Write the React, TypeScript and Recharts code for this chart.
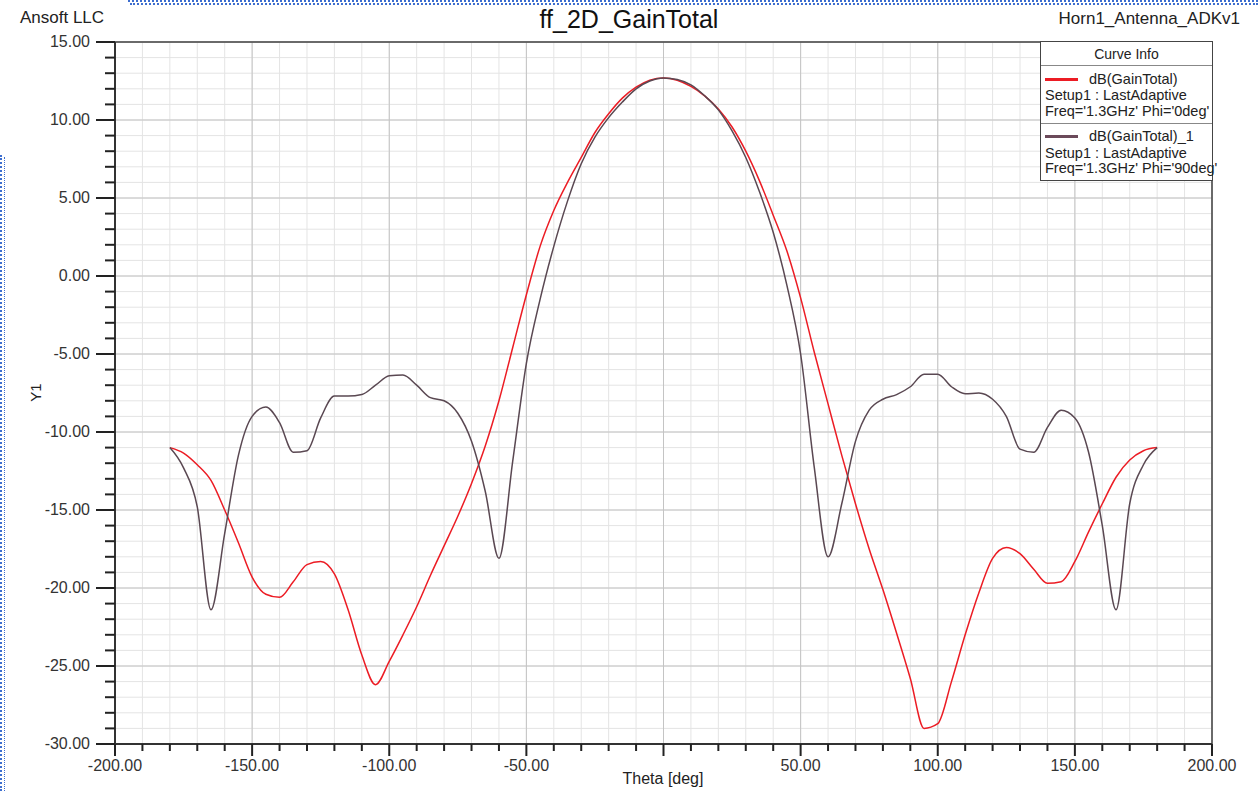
import { CartesianGrid, Line, LineChart, ReferenceLine, XAxis, YAxis } from 'recharts';

const theta = [
  -180, -175, -170, -165, -160, -155, -150, -145, -140, -135, -130, -125, -120, -115, -110, -105, -100, -95, -90, -85,
  -80, -75, -70, -65, -60, -55, -50, -45, -40, -35, -30, -25, -20, -15, -10, -5, 0, 5, 10, 15, 20, 25, 30, 35, 40, 45,
  50, 55, 60, 65, 70, 75, 80, 85, 90, 95, 100, 105, 110, 115, 120, 125, 130, 135, 140, 145, 150, 155, 160, 165, 170,
  175, 180,
];

// dB(GainTotal), Phi = 0deg
const gainPhi0 = [
  -11.0, -11.35, -12.1, -13.1, -15.0, -17.1, -19.3, -20.4, -20.6, -19.6, -18.5, -18.3, -19.1, -21.4, -24.3, -26.2,
  -24.7, -23.0, -21.2, -19.2, -17.3, -15.4, -13.3, -10.9, -8.0, -4.6, -1.2, 1.9, 4.2, 6.0, 7.6, 9.2, 10.4, 11.4, 12.1,
  12.55, 12.7, 12.55, 12.15, 11.55, 10.7, 9.55, 8.0, 6.1, 3.9, 1.6, -1.4, -4.9, -8.2, -11.5, -14.6, -17.5, -20.1, -22.9,
  -25.8, -29.0, -28.7, -26.0, -23.0, -20.3, -18.1, -17.4, -17.8, -18.8, -19.7, -19.6, -18.3, -16.4, -14.6, -12.9,
  -11.8, -11.2, -11.0,
];

// dB(GainTotal)_1, Phi = 90deg
const gainPhi90 = [
  -11.0, -12.3, -14.8, -21.4, -16.5, -11.5, -9.0, -8.4, -9.4, -11.3, -11.2, -9.1, -7.7, -7.7, -7.6, -7.0, -6.4, -6.35,
  -7.0, -7.8, -8.0, -8.8, -10.6, -13.8, -18.1, -11.9, -5.6, -1.5, 1.9, 4.8, 7.2, 8.9, 10.15, 11.15, 12.0, 12.5, 12.7,
  12.6, 12.25, 11.55, 10.65, 9.3, 7.6, 5.4, 2.8, -0.6, -5.0, -12.3, -18.0, -14.6, -10.6, -8.6, -7.9, -7.6, -7.1, -6.3,
  -6.3, -7.1, -7.55, -7.5, -7.9, -9.0, -11.1, -11.3, -9.7, -8.6, -9.1, -11.3, -16.0, -21.4, -14.6, -12.1, -11.0,
];

const xMajor = [-200, -150, -100, -50, 0, 50, 100, 150, 200];
const xMinor = Array.from({ length: 41 }, (_, i) => -200 + i * 10);
const yMajor = [15, 10, 5, 0, -5, -10, -15, -20, -25, -30];
const yMinor = Array.from({ length: 46 }, (_, i) => 15 - i);

const data = theta.map((t, i) => ({ theta: t, phi0: gainPhi0[i], phi90: gainPhi90[i] }));

const FONT = '"Liberation Sans", Arial, sans-serif';
const RED = '#ec1c24';
const DARK = '#5a4852';

function XTick(props: any) {
  const { x, y, payload } = props;
  const major = payload.value % 50 === 0;
  // the 0.00 label sits under the axis title in the original, so it is not drawn
  return (
    <g>
      <line x1={x} x2={x} y1={y} y2={y + (major ? 12 : 7)} stroke="#222" strokeWidth={2} />
      {major && payload.value !== 0 && (
        <text x={x} y={y + 27} textAnchor="middle" fontSize={16} fill="#333" fontFamily={FONT}>
          {payload.value.toFixed(2)}
        </text>
      )}
    </g>
  );
}

function YTick(props: any) {
  const { x, y, payload } = props;
  const major = payload.value % 5 === 0;
  return (
    <g>
      <line x1={x - (major ? 19 : 10)} x2={x} y1={y} y2={y} stroke="#222" strokeWidth={2} />
      {major && (
        <text x={x - 25} y={y + 5} textAnchor="end" fontSize={16} fill="#333" fontFamily={FONT}>
          {payload.value.toFixed(2)}
        </text>
      )}
    </g>
  );
}

const legendText = { position: 'absolute' as const, fontSize: 14.5, color: '#222', whiteSpace: 'nowrap' as const, lineHeight: '16px' };

export default function App() {
  return (
    <div style={{ position: 'absolute', left: 0, top: 0, width: 1258, height: 791, background: '#fff', fontFamily: FONT, overflow: 'hidden' }}>
      <style>{'body{margin:0}'}</style>
      {/* selection dots from the screenshot */}
      <div style={{ position: 'absolute', left: 128, right: 0, top: 0, borderTop: '2px dotted #3d6ecf' }} />
      <div style={{ position: 'absolute', left: 130, right: 0, top: 3, borderTop: '2px dotted #3d6ecf' }} />
      <div style={{ position: 'absolute', left: 0, top: 155, bottom: 0, borderLeft: '2px dotted #3d6ecf' }} />
      <div style={{ position: 'absolute', left: 4, top: 157, bottom: 0, borderLeft: '1px dotted #3d6ecf' }} />

      <div style={{ position: 'absolute', left: 20, top: 8, fontSize: 17, color: '#222' }}>Ansoft LLC</div>
      <div style={{ position: 'absolute', left: 0, width: 1258, top: 5, textAlign: 'center', fontSize: 25, color: '#111' }}>
        ff_2D_GainTotal
      </div>
      <div style={{ position: 'absolute', right: 18, top: 9, fontSize: 17, color: '#222' }}>Horn1_Antenna_ADKv1</div>
      <div style={{ position: 'absolute', left: 26, top: 384, fontSize: 15, color: '#222', transform: 'rotate(-90deg)' }}>Y1</div>
      <div style={{ position: 'absolute', left: 0, width: 1326, top: 770, textAlign: 'center', fontSize: 16, color: '#222' }}>
        Theta [deg]
      </div>

      <LineChart width={1258} height={791} data={data} margin={{ top: 42, right: 46, left: 0, bottom: 0 }}>
        <CartesianGrid verticalValues={xMinor} horizontalValues={yMinor} stroke="#e4e4e4" strokeWidth={1} />
        <CartesianGrid verticalValues={xMajor} horizontalValues={yMajor} stroke="#c4c4c4" strokeWidth={1} />
        <XAxis
          type="number"
          dataKey="theta"
          domain={[-200, 200]}
          ticks={xMinor}
          interval={0}
          height={47}
          tickSize={0}
          tickMargin={0}
          tickLine={false}
          tick={<XTick />}
          axisLine={{ stroke: '#333', strokeWidth: 2 }}
        />
        <YAxis
          type="number"
          domain={[-30, 15]}
          ticks={yMinor}
          interval={0}
          width={115}
          tickSize={0}
          tickMargin={0}
          tickLine={false}
          tick={<YTick />}
          axisLine={{ stroke: '#333', strokeWidth: 2 }}
        />
        <ReferenceLine y={15} stroke="#444" strokeWidth={1.5} />
        <ReferenceLine x={200} stroke="#444" strokeWidth={1.5} />
        <Line type="monotone" dataKey="phi0" stroke={RED} strokeWidth={1.5} dot={false} isAnimationActive={false} />
        <Line type="monotone" dataKey="phi90" stroke={DARK} strokeWidth={1.5} dot={false} isAnimationActive={false} />
      </LineChart>

      {/* Curve Info box */}
      <div style={{ position: 'absolute', left: 1040, top: 41, width: 171, height: 138, background: '#fff', border: '1.5px solid #444' }}>
        <div style={{ ...legendText, left: 0, width: 171, top: 4, textAlign: 'center', fontSize: 14 }}>Curve Info</div>
        <div style={{ position: 'absolute', left: 0, width: 171, top: 23, borderTop: '1px solid #888' }} />
        <div style={{ position: 'absolute', left: 4, top: 36, width: 33, height: 3, background: RED }} />
        <div style={{ ...legendText, left: 48, top: 29 }}>dB(GainTotal)</div>
        <div style={{ ...legendText, left: 4, top: 45 }}>Setup1 : LastAdaptive</div>
        <div style={{ ...legendText, left: 4, top: 61 }}>Freq='1.3GHz' Phi='0deg'</div>
        <div style={{ position: 'absolute', left: 0, width: 171, top: 81, borderTop: '1px solid #888' }} />
        <div style={{ position: 'absolute', left: 4, top: 93, width: 33, height: 3, background: '#6b4a5a' }} />
        <div style={{ ...legendText, left: 48, top: 86 }}>dB(GainTotal)_1</div>
        <div style={{ ...legendText, left: 4, top: 103 }}>Setup1 : LastAdaptive</div>
        <div style={{ ...legendText, left: 4, top: 118 }}>Freq='1.3GHz' Phi='90deg'</div>
      </div>
    </div>
  );
}
